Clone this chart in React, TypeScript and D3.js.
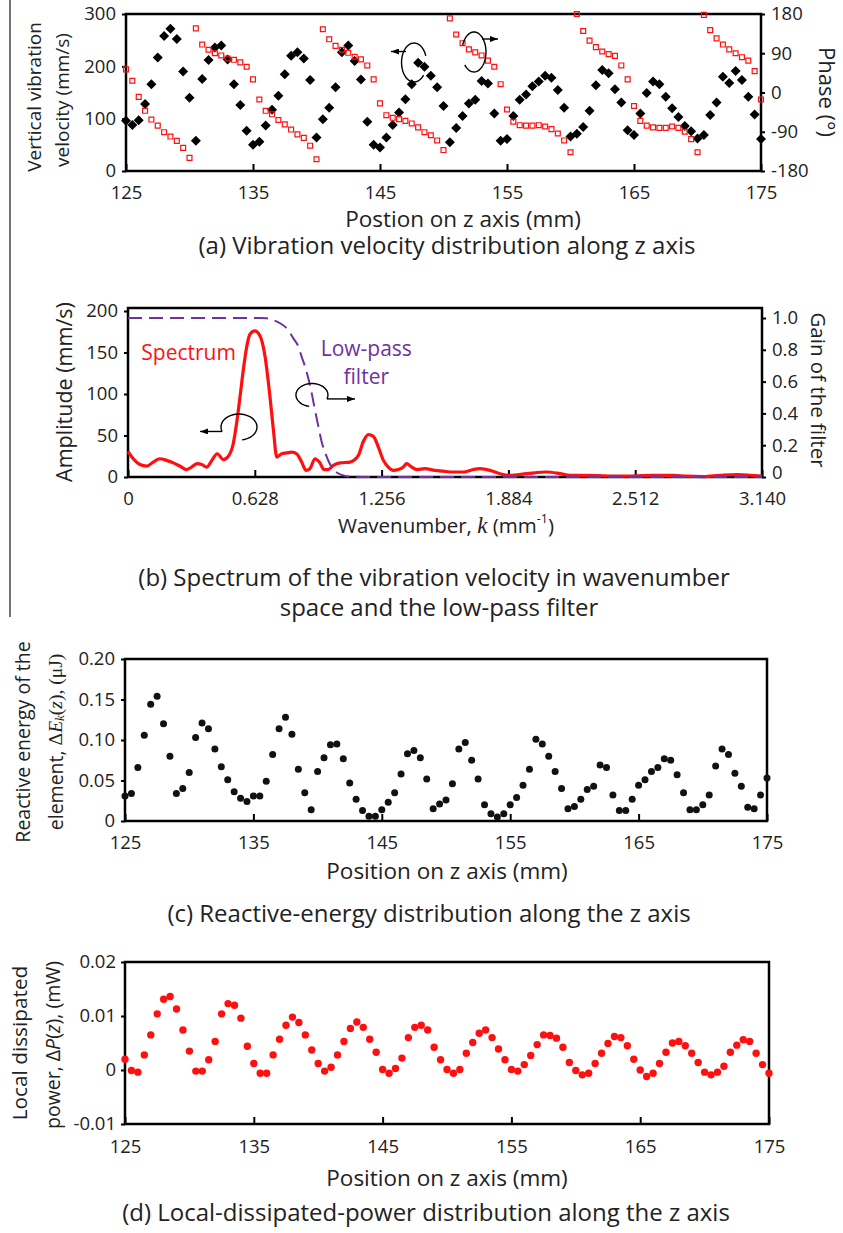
import React, { useEffect, useRef } from "react";
import * as d3 from "d3";

const W = 843;
const H = 1233;
const FONT = "'Open Sans', 'Noto Sans', sans-serif";
const SERIF = "'Liberation Serif', 'DejaVu Serif', serif";
const RED = "#ff1010";
const PURPLE = "#7030a0";

// sample positions on the z axis, every 0.5 mm
const zPos = d3.range(125, 175.25, 0.5);

// (a) vertical vibration velocity (mm/s) and phase (deg)
const velocity = [
  96, 88, 97, 128, 166, 217, 258, 272, 252, 190, 140, 58, 176, 212, 236, 240, 213, 166, 126, 77,
  50, 56, 87, 117, 144, 185, 220, 227, 215, 174, 64, 99, 121, 160, 227, 240, 210, 175, 94, 50,
  45, 64, 88, 112, 137, 166, 207, 199, 182, 160, 124, 55, 82, 105, 129, 136, 172, 167, 110, 58,
  61, 105, 136, 146, 162, 171, 182, 178, 155, 121, 66, 71, 84, 115, 164, 193, 187, 156, 131, 78,
  69, 110, 149, 171, 166, 142, 120, 103, 86, 76, 62, 69, 107, 131, 180, 168, 191, 174, 142, 108,
  61,
];
const phase = [
  53, 27, -10, -42, -62, -76, -91, -101, -111, -127, -150, 147, 110, 98, 90, 85, 78, 75, 69, 59,
  30, -16, -42, -50, -63, -73, -85, -96, -104, -122, -153, 145, 122, 107, 98, 91, 82, 76, 62, 30,
  -25, -52, -58, -61, -65, -71, -80, -91, -98, -110, -132, 170, 133, 113, 99, 92, 85, 73, 59, 19,
  -39, -67, -75, -76, -76, -75, -78, -84, -94, -110, -137, 180, 141, 119, 104, 94, 88, 84, 62, 30,
  -31, -65, -76, -80, -81, -81, -78, -81, -90, -107, -137, 178, 143, 124, 110, 99, 90, 81, 73, 49,
  -16,
];

// (b) spectrum in wavenumber space and the low-pass filter
const specK = [
  0, 0.026, 0.059, 0.092, 0.125, 0.158, 0.191, 0.225, 0.258, 0.29, 0.315, 0.343, 0.365, 0.39,
  0.415, 0.442, 0.472, 0.497, 0.522, 0.538, 0.555, 0.571, 0.588, 0.604, 0.628, 0.654, 0.679,
  0.703, 0.72, 0.737, 0.761, 0.786, 0.811, 0.835, 0.86, 0.882, 0.901, 0.926, 0.948, 0.971, 0.992,
  1.017, 1.05, 1.1, 1.141, 1.166, 1.19, 1.215, 1.24, 1.265, 1.289, 1.314, 1.339, 1.364, 1.38,
  1.405, 1.43, 1.47, 1.52, 1.56, 1.611, 1.661, 1.71, 1.743, 1.793, 1.842, 1.892, 1.975, 2.074,
  2.14, 2.189, 2.272, 2.437, 2.602, 2.701, 2.767, 2.85, 2.932, 3.015, 3.14,
];
const specAmp = [
  31, 22, 15, 13, 18, 22, 20, 17, 13, 9, 12, 16, 15, 12,
  20, 28, 21, 25, 41, 65, 97, 129, 157, 172, 176, 170, 145,
  97, 57, 24, 28, 29, 30, 28, 18, 8, 10, 22, 18, 9, 9,
  14, 17, 18, 26, 43, 51, 49, 36, 20, 12, 8, 9, 12, 16,
  12, 9, 10, 8, 7, 6, 6, 9, 10, 8, 4, 2, 4, 6,
  4, 2, 2, 1, 2, 2, 1, 0.5, 2, 3, 1,
];
const filterK = [0, 0.654, 0.687, 0.72, 0.753, 0.786, 0.819, 0.844, 0.86, 0.877, 0.893, 0.91, 0.926, 0.943, 0.959, 0.981, 1.0, 1.025, 1.058, 1.1, 1.18, 3.14];
const filterGain = [1.0, 1.0, 0.998, 0.987, 0.967, 0.935, 0.872, 0.82, 0.757, 0.694, 0.621, 0.526, 0.421, 0.317, 0.222, 0.138, 0.082, 0.038, 0.013, 0.003, 0, 0];

// (c) reactive energy of the element (uJ)
const reactiveEnergy = [
  0.031, 0.034, 0.066, 0.106, 0.144, 0.154, 0.120, 0.080, 0.034, 0.040,
  0.060, 0.103, 0.121, 0.114, 0.089, 0.067, 0.051, 0.036, 0.028, 0.024,
  0.031, 0.031, 0.049, 0.082, 0.114, 0.128, 0.107, 0.064, 0.035, 0.014,
  0.061, 0.078, 0.094, 0.095, 0.077, 0.047, 0.027, 0.013, 0.006, 0.006,
  0.014, 0.023, 0.035, 0.058, 0.083, 0.087, 0.078, 0.052, 0.015, 0.021,
  0.026, 0.046, 0.089, 0.097, 0.075, 0.052, 0.020, 0.009, 0.005, 0.009,
  0.020, 0.029, 0.044, 0.064, 0.101, 0.095, 0.080, 0.061, 0.040, 0.015,
  0.018, 0.027, 0.039, 0.043, 0.069, 0.066, 0.032, 0.013, 0.013, 0.027,
  0.044, 0.051, 0.061, 0.066, 0.077, 0.075, 0.057, 0.035, 0.014, 0.014,
  0.020, 0.032, 0.068, 0.089, 0.082, 0.059, 0.043, 0.017, 0.015, 0.032,
  0.053,
];

// (d) local dissipated power (mW)
const dissipatedPower = [
  0.0020, -0.0001, -0.0004, 0.0028, 0.0065, 0.0104, 0.0131, 0.0136, 0.0113, 0.0074,
  0.0035, -0.0002, -0.0002, 0.0019, 0.0053, 0.0104, 0.0123, 0.0120, 0.0096, 0.0044,
  0.0012, -0.0006, -0.0006, 0.0028, 0.0057, 0.0083, 0.0098, 0.0088, 0.0065, 0.0037,
  0.0012, -0.0002, 0.0005, 0.0028, 0.0053, 0.0077, 0.0089, 0.0079, 0.0057, 0.0033,
  0.0001, -0.0006, 0.0003, 0.0022, 0.0060, 0.0079, 0.0083, 0.0074, 0.0042, 0.0019,
  0.0001, -0.0006, 0.0001, 0.0031, 0.0051, 0.0068, 0.0074, 0.0060, 0.0039, 0.0019,
  0.0001, -0.0002, 0.0010, 0.0027, 0.0047, 0.0065, 0.0064, 0.0059, 0.0042, 0.0014,
  -0.0001, -0.0009, -0.0006, 0.0012, 0.0031, 0.0049, 0.0062, 0.0060, 0.0045, 0.0020,
  0.0000, -0.0012, -0.0006, 0.0012, 0.0033, 0.0050, 0.0053, 0.0045, 0.0031, 0.0014,
  -0.0004, -0.0009, -0.0004, 0.0007, 0.0033, 0.0046, 0.0056, 0.0053, 0.0031, 0.0010,
  -0.0006,
];

// tick values
const zTicks = [125, 135, 145, 155, 165, 175];
const velTicks = [0, 100, 200, 300];
const phaseTicks = [-180, -90, 0, 90, 180];
const kTicks = [0, 0.628, 1.256, 1.884, 2.512, 3.14];
const ampTicks = [0, 50, 100, 150, 200];
const gainTicks = [0, 0.2, 0.4, 0.6, 0.8, 1.0];
const energyTicks = [0, 0.05, 0.1, 0.15, 0.2];
const powerTicks = [-0.01, 0, 0.01, 0.02];

const fmt = (p: string) => (d: any) => (d === 0 ? "0" : d3.format(p)(d).replace("−", "-"));

const CAP = 24; // caption size
const XL = 22.5; // x-axis title size

function draw(svg: any) {
  svg.append("rect").attr("width", W).attr("height", H).attr("fill", "#fff");

  const defs = svg.append("defs");
  defs.append("marker").attr("id", "arrow").attr("viewBox", "0 0 8 6")
    .attr("refX", 8).attr("refY", 3).attr("markerWidth", 8).attr("markerHeight", 6)
    .attr("markerUnits", "userSpaceOnUse").attr("orient", "auto")
    .append("path").attr("d", "M0,0L8,3L0,6Z").attr("fill", "#000");

  // thin vertical rule on the left of panels (a) and (b)
  svg.append("line").attr("x1", 10).attr("x2", 10).attr("y1", 0).attr("y2", 617)
    .attr("stroke", "#444").attr("stroke-width", 1.5);

  const styleAxis = (g: any, size = 18.5) => {
    g.select(".domain").remove();
    g.selectAll(".tick line").attr("stroke", "#000").attr("stroke-width", 2);
    g.selectAll(".tick text").attr("font-family", FONT).attr("font-size", size).attr("fill", "#222");
    return g;
  };
  const frame = (x: any, y: any) => {
    const [x0, x1] = x.range();
    const [y1, y0] = y.range();
    svg.append("rect").attr("x", x0).attr("y", y0).attr("width", x1 - x0).attr("height", y1 - y0)
      .attr("fill", "none").attr("stroke", "#000").attr("stroke-width", 2.5);
  };
  const text = (x: number, y: number, str: string, size = 20, rot = 0) =>
    svg.append("text")
      .attr("transform", `translate(${x},${y}) rotate(${rot})`)
      .attr("text-anchor", "middle").attr("dominant-baseline", "central")
      .attr("font-family", FONT).attr("font-size", size).attr("fill", "#222").text(str);
  const loop = (cx: number, cy: number, rx: number, ry: number, a0: number, a1: number) => {
    const pts = d3.range(0, 41).map((i) => {
      const a = ((a0 + ((a1 - a0) * i) / 40) * Math.PI) / 180;
      return [cx + rx * Math.cos(a), cy + ry * Math.sin(a)] as [number, number];
    });
    svg.append("path").attr("d", d3.line()(pts)).attr("fill", "none")
      .attr("stroke", "#000").attr("stroke-width", 1.4);
    return pts[pts.length - 1];
  };
  const arrow = (x1: number, y1: number, x2: number, y2: number) =>
    svg.append("line").attr("x1", x1).attr("y1", y1).attr("x2", x2).attr("y2", y2)
      .attr("stroke", "#000").attr("stroke-width", 1.4).attr("marker-end", "url(#arrow)");

  // ---------- (a) ----------
  const ax = d3.scaleLinear().domain([125, 175]).range([126, 761]);
  const ayV = d3.scaleLinear().domain([0, 300]).range([171, 14]);
  const ayP = d3.scaleLinear().domain([-180, 180]).range([171, 14]);
  frame(ax, ayV);
  styleAxis(svg.append("g").attr("transform", "translate(0,171)")
    .call(d3.axisBottom(ax).tickValues(zTicks).tickSize(-7).tickPadding(15).tickFormat(d3.format("d"))));
  styleAxis(svg.append("g").attr("transform", "translate(126,0)")
    .call(d3.axisLeft(ayV).tickValues(velTicks).tickSize(4).tickPadding(6)));
  styleAxis(svg.append("g").attr("transform", "translate(761,0)")
    .call(d3.axisRight(ayP).tickValues(phaseTicks).tickSize(4).tickPadding(6).tickFormat(fmt("d"))));

  svg.append("g").selectAll("path").data(zPos).join("path")
    .attr("d", d3.symbol(d3.symbolSquare, 50))
    .attr("transform", (d: number, i: number) => `translate(${ax(d)},${ayV(velocity[i])}) rotate(45)`)
    .attr("fill", "#000");
  svg.append("g").selectAll("path").data(zPos).join("path")
    .attr("d", d3.symbol(d3.symbolSquare, 24))
    .attr("transform", (d: number, i: number) => `translate(${ax(d)},${ayP(phase[i])})`)
    .attr("fill", "none").attr("stroke", RED).attr("stroke-width", 1.2);

  {
    const cx = ax(147.68), cy = ayV(207.3);
    loop(cx, cy, 12.5, 19.5, -20, -320);
    arrow(cx - 8, cy - 11, cx - 23, cy - 11);
    const rx = ax(152.4), ry = ayV(227.4);
    loop(rx, ry, 12, 20, 200, 500);
    arrow(rx + 8, ry - 13, rx + 24, ry - 13);
  }

  text(34, 97, "Vertical vibration", 19, -90);
  text(62, 100, "velocity (mm/s)", 19, -90);
  text(828, 92, "Phase (°)", 22, 90);
  text(463, 218, "Postion on z axis (mm)", XL);
  text(447, 244, "(a) Vibration velocity distribution along z axis", CAP);

  // ---------- (b) ----------
  const bx = d3.scaleLinear().domain([0, 3.14]).range([128, 762]);
  const byA = d3.scaleLinear().domain([0, 203.6]).range([477, 308]);
  const byG = d3.scaleLinear().domain([0, 1.063]).range([477, 308]);
  frame(bx, byA);
  styleAxis(svg.append("g").attr("transform", "translate(0,477)")
    .call(d3.axisBottom(bx).tickValues(kTicks).tickSize(-7).tickPadding(15).tickFormat(fmt(".3f"))));
  styleAxis(svg.append("g").attr("transform", "translate(128,0)")
    .call(d3.axisLeft(byA).tickValues(ampTicks).tickSize(4).tickPadding(6)));
  styleAxis(svg.append("g").attr("transform", "translate(762,0)")
    .call(d3.axisRight(byG).tickValues(gainTicks).tickSize(4).tickPadding(6).tickFormat(fmt(".1f"))))
    .selectAll(".tick text").filter((d: number) => d === 0).attr("dy", "0.1em");

  const specLine = d3.line<number>().x((d) => bx(d)).y((_, i) => byA(specAmp[i])).curve(d3.curveMonotoneX);
  svg.append("path").attr("d", specLine(specK)).attr("fill", "none")
    .attr("stroke", RED).attr("stroke-width", 3.2).attr("stroke-linejoin", "round");
  const filtLine = d3.line<number>().x((d) => bx(d)).y((_, i) => byG(filterGain[i])).curve(d3.curveMonotoneX);
  svg.append("path").attr("d", filtLine(filterK)).attr("fill", "none")
    .attr("stroke", PURPLE).attr("stroke-width", 2).attr("stroke-dasharray", "14,7");

  {
    const cx = bx(0.5497), cy = byA(60.2);
    const p = loop(cx, cy, 18, 13, 80, -200);
    arrow(p[0], p[1], p[0] - 22, p[1]);
    const rx = bx(0.911), ry = byA(98.8);
    const q = loop(rx, ry, 16, 11.5, 100, 380);
    arrow(q[0], q[1], q[0] + 28, q[1]);
  }
  text(bx(0.30), byA(150), "Spectrum", 21).attr("fill", RED);
  text(bx(1.18), byA(155), "Low-pass", 21).attr("fill", PURPLE);
  text(bx(1.18), byA(122), "filter", 21).attr("fill", PURPLE);

  text(63, 392, "Amplitude (mm/s)", 21.5, -90);
  text(819, 390, "Gain of the filter", 20.5, 90);
  {
    const t = text(446, 525, "", 20.5);
    t.append("tspan").text("Wavenumber, ");
    t.append("tspan").attr("font-family", SERIF).attr("font-style", "italic").attr("font-size", 23).text("k");
    t.append("tspan").text(" (mm");
    t.append("tspan").attr("font-size", 12.5).attr("dy", -7).text("-1");
    t.append("tspan").attr("dy", 7).text(")");
  }
  text(434, 576, "(b) Spectrum of the vibration velocity in wavenumber", CAP);
  text(439, 606, "space and the low-pass filter", CAP);

  // ---------- (c) ----------
  const cxs = d3.scaleLinear().domain([125, 175]).range([125, 767]);
  const cys = d3.scaleLinear().domain([0, 0.2]).range([821, 659]);
  frame(cxs, cys);
  styleAxis(svg.append("g").attr("transform", "translate(0,821)")
    .call(d3.axisBottom(cxs).tickValues(zTicks).tickSize(-7).tickPadding(15).tickFormat(d3.format("d"))));
  styleAxis(svg.append("g").attr("transform", "translate(125,0)")
    .call(d3.axisLeft(cys).tickValues(energyTicks).tickSize(4).tickPadding(6).tickFormat(fmt(".2f"))));
  svg.append("g").selectAll("circle").data(zPos).join("circle")
    .attr("cx", (d: number) => cxs(d)).attr("cy", (_: number, i: number) => cys(reactiveEnergy[i]))
    .attr("r", 3.5).attr("fill", "#111");

  text(22, 742, "Reactive energy of the", 19.5, -90);
  {
    const t = text(55, 742, "", 19.5, -90);
    t.append("tspan").text("element, ");
    t.append("tspan").attr("font-family", SERIF).text("Δ");
    t.append("tspan").attr("font-family", SERIF).attr("font-style", "italic").text("E");
    t.append("tspan").attr("font-family", SERIF).attr("font-style", "italic").attr("font-size", 13).attr("dy", 4).text("k");
    t.append("tspan").attr("font-family", SERIF).attr("dy", -4).text("(");
    t.append("tspan").attr("font-family", SERIF).attr("font-style", "italic").text("z");
    t.append("tspan").attr("font-family", SERIF).text("), (μJ)");
  }
  text(447, 870, "Position on z axis (mm)", XL);
  text(429, 912, "(c) Reactive-energy distribution along the z axis", CAP);

  // ---------- (d) ----------
  const dxs = d3.scaleLinear().domain([125, 175]).range([125, 769]);
  const dys = d3.scaleLinear().domain([-0.01, 0.02]).range([1124, 962]);
  frame(dxs, dys);
  styleAxis(svg.append("g").attr("transform", "translate(0,1124)")
    .call(d3.axisBottom(dxs).tickValues(zTicks).tickSize(-7).tickPadding(16).tickFormat(d3.format("d"))));
  styleAxis(svg.append("g").attr("transform", "translate(125,0)")
    .call(d3.axisLeft(dys).tickValues(powerTicks).tickSize(4).tickPadding(5).tickFormat(fmt(".2f"))));
  svg.append("g").selectAll("circle").data(zPos).join("circle")
    .attr("cx", (d: number) => dxs(d)).attr("cy", (_: number, i: number) => dys(dissipatedPower[i]))
    .attr("r", 3.7).attr("fill", RED);

  text(19, 1043, "Local dissipated", 20.8, -90);
  {
    const t = text(52, 1045, "", 19.5, -90);
    t.append("tspan").text("power, Δ");
    t.append("tspan").attr("font-style", "italic").text("P");
    t.append("tspan").text("(");
    t.append("tspan").attr("font-style", "italic").text("z");
    t.append("tspan").text("), (mW)");
  }
  text(447, 1177, "Position on z axis (mm)", XL);
  text(426, 1211, "(d) Local-dissipated-power distribution along the z axis", CAP);
}

export default function App() {
  const ref = useRef<SVGSVGElement>(null);
  useEffect(() => {
    const svg = d3.select(ref.current);
    svg.selectAll("*").remove();
    draw(svg);
  }, []);
  return (
    <svg
      ref={ref}
      width={W}
      height={H}
      style={{ position: "absolute", left: 0, top: 0, background: "#fff" }}
    />
  );
}
